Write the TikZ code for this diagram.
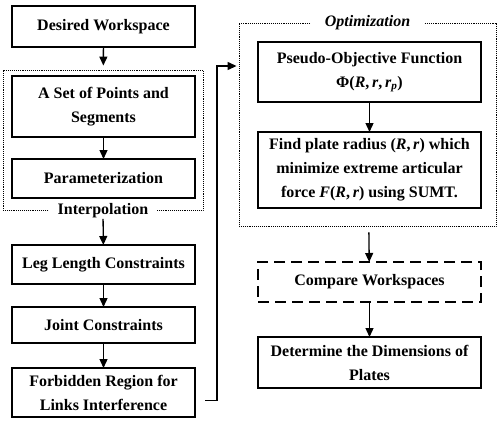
\documentclass[tikz,border=0pt]{standalone}
\usepackage{fontspec}
\setmainfont{Liberation Serif}
\usetikzlibrary{arrows.meta,positioning,fit}

\begin{document}
\begin{tikzpicture}[
				x=1pt,y=-1pt,
				node distance=22pt,
				stage/.style={draw,rectangle,line width=1.5pt,outer sep=0pt,minimum width=183pt,align=center,inner sep=2pt,font=\fontsize{16}{24}\selectfont\bfseries},
				wide/.style={stage,minimum width=223pt},
				dashstage/.style={wide,dash pattern=on 11pt off 6pt},
				group/.style={draw,densely dotted,line width=0.9pt,inner sep=0pt},
				grouplabel/.style={fill=white,inner xsep=9pt,inner ysep=1pt,font=\fontsize{16}{18}\selectfont\bfseries},
				flow/.style={-{Stealth[length=9pt,width=8pt,inset=0pt]},line width=1.3pt}
				]
				\useasboundingbox (0,0) rectangle (497,420);
				
				\node[stage,minimum height=41pt] (desired) at (103.5,26.5) {Desired Workspace};
				\node[stage,minimum height=61pt,below=29pt of desired] (points) {A Set of Points and\\Segments};
				\node[stage,minimum height=39pt,below=of points] (param) {Parameterization};
				\node[group,fit={([xshift=-9pt,yshift=6pt]points.north west) ([xshift=8pt,yshift=-12pt]param.south east)}] (interp) {};
				\node[grouplabel] (interplabel) at (interp.south) {Interpolation};
				
				\node[stage,minimum height=39pt,below=47pt of param] (leg) {Leg Length Constraints};
				\node[stage,minimum height=36pt,below=23pt of leg] (joint) {Joint Constraints};
				\node[stage,minimum height=49pt,below=25pt of joint] (forbid) {Forbidden Region for\\Links Interference};
				
				\node[wide,minimum height=60pt] (pseudo) at (369.5,72) {Pseudo-Objective Function\\{\upshape Φ}(\textit{R},\,\textit{r},\,\textit{r}\textsubscript{\textit{p}})};
				\node[wide,minimum height=76pt,below=30pt of pseudo] (find) {Find plate radius (\textit{R},\,\textit{r}) which\\minimize extreme articular\\force \textit{F}(\textit{R},\,\textit{r}) using SUMT.};
				\node[group,fit={([xshift=-19pt,yshift=19pt]pseudo.north west) ([xshift=15pt,yshift=-18pt]find.south east)}] (optim) {};
				\node[grouplabel,inner xsep=14pt,font=\fontsize{16}{18}\selectfont\bfseries\itshape] (optimlabel) at (optim.north) {Optimization};
				
				\node[dashstage,minimum height=40pt,below=54pt of find] (compare) {Compare Workspaces};
				\node[wide,minimum height=51pt,below=35pt of compare] (plates) {Determine the Dimensions of\\Plates};
				
				\coordinate (bend) at (217,66);
				
				\draw[flow,shorten >=4pt] (desired) -- (interp);
				\draw[flow] (points) -- (param);
				\draw[flow] (interplabel) -- (leg);
				\draw[flow] (leg) -- (joint);
				\draw[flow] (joint) -- (forbid);
				\draw[flow,shorten >=2pt] ([xshift=10pt,yshift=-8pt]forbid.east) -| (bend) -- (bend -| optim.west);
				\draw[flow] (pseudo) -- (find);
				\draw[flow,shorten <=6pt] (optim) -- (compare);
				\draw[flow] (compare) -- (plates);
				
			\end{tikzpicture}
\end{document}
